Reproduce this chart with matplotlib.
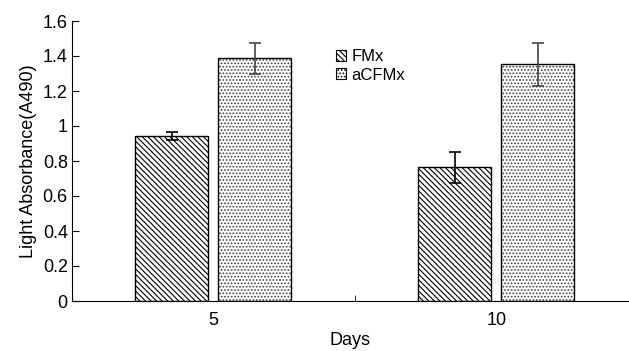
import matplotlib.pyplot as plt
import matplotlib.patches as mpatches
import numpy as np

plt.rcParams['font.family'] = ['Liberation Sans', 'DejaVu Sans']
plt.rcParams['hatch.linewidth'] = 0.8

days = ['5', '10']
fmx = [0.943, 0.764]
fmx_err = [0.025, 0.09]
acfmx = [1.387, 1.353]
acfmx_err = [0.09, 0.123]
series = ['FMx', 'aCFMx']

x = np.arange(len(days))
w = 0.258
off = 0.147

fig = plt.figure(figsize=(6.29, 3.51), dpi=100)
ax = fig.add_axes([72/629, 50/351, 556/629, 280/351])

ax.bar(x - off, fmx, w, color='white', edgecolor='black', hatch='\\' * 6, linewidth=1.0)
ax.bar(x + off, acfmx, w, color='white', edgecolor='0.25', hatch='.....', linewidth=0)
ax.bar(x + off, acfmx, w, color='none', edgecolor='black', linewidth=1.0)
ax.errorbar(x - off, fmx, yerr=fmx_err, fmt='none', ecolor='black', elinewidth=1.2, capsize=4, capthick=1.2)
ax.errorbar(x + off, acfmx, yerr=acfmx_err, fmt='none', ecolor='#444444', elinewidth=1.2, capsize=4, capthick=1.2)

ax.set_xlim(-0.5, 1.466)
ax.set_ylim(0, 1.6)
ax.set_yticks([0, 0.2, 0.4, 0.6, 0.8, 1.0, 1.2, 1.4, 1.6])
ax.set_yticklabels(['0', '0.2', '0.4', '0.6', '0.8', '1', '1.2', '1.4', '1.6'], fontsize=13)
ax.set_xticks(x)
ax.set_xticklabels(days, fontsize=13)
ax.tick_params(axis='x', length=0, pad=8)
ax.tick_params(axis='y', direction='in', length=5, pad=3)
ax.set_xticks([0.5], minor=True)
ax.tick_params(axis='x', which='minor', direction='in', length=4)
ax.spines['top'].set_visible(False)
ax.spines['right'].set_visible(False)

ax.set_xlabel('Days', fontsize=13, labelpad=2)
ax.set_ylabel('Light Absorbance(A490)', fontsize=13, labelpad=4)

h1 = mpatches.Patch(facecolor='white', edgecolor='black', hatch='\\' * 6, linewidth=0.8, label=series[0])
h2 = mpatches.Patch(facecolor='white', edgecolor='black', hatch='.....', linewidth=0.8, label=series[1])
ax.legend(handles=[h1, h2], loc='upper left', bbox_to_anchor=(328/629, 1 - 41/351),
          bbox_transform=fig.transFigure, frameon=False, fontsize=12,
          handlelength=0.6, handleheight=0.6, handletextpad=0.3, labelspacing=0.2, borderpad=0)

fig.savefig('out.png', dpi=100)
